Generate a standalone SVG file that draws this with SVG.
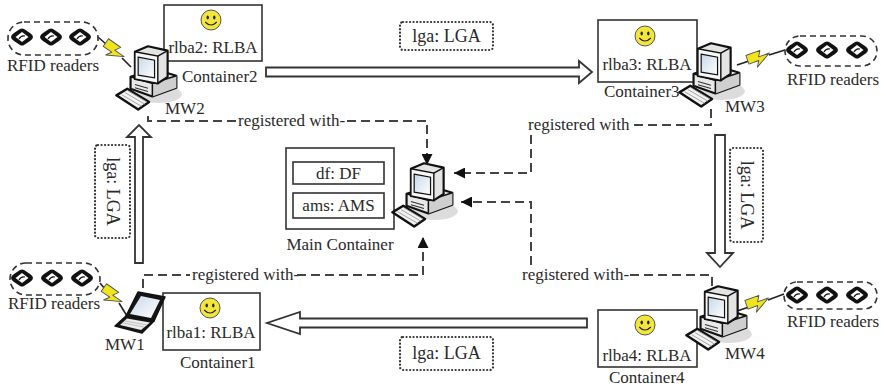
<svg xmlns="http://www.w3.org/2000/svg" xmlns:xlink="http://www.w3.org/1999/xlink" width="881" height="388" viewBox="0 0 881 388">
  <style>
    .t { font-family: "Liberation Serif", "Times New Roman", serif; font-size: 17px; fill: #2a2a2a; }
    .lga { font-family: "Liberation Serif", "Times New Roman", serif; font-size: 18px; fill: #2a2a2a; }
    .box { fill: #fff; stroke: #333; stroke-width: 1.6; }
    .dot { fill: none; stroke: #333; stroke-width: 2.2; stroke-dasharray: 0.1 3.4; stroke-linecap: round; }
    .dash { fill: none; stroke: #444; stroke-width: 2; stroke-dasharray: 9 5; }
    .hollow { fill: #fff; stroke: #333; stroke-width: 1.8; stroke-linejoin: miter; }
    .grp { fill: none; stroke: #333; stroke-width: 1.6; stroke-dasharray: 6 4; }
    .wire { fill: none; stroke: #222; stroke-width: 1.6; }
    .bolt { fill: #f2e41c; stroke: #555; stroke-width: 0.8; stroke-linejoin: round; }
  </style>
  <defs>
    <linearGradient id="scr" x1="0" y1="0" x2="1" y2="1">
      <stop offset="0" stop-color="#c9d8ea"/>
      <stop offset="1" stop-color="#ffffff"/>
    </linearGradient>
    <marker id="ah" viewBox="0 0 10 10" refX="10" refY="5" markerWidth="11" markerHeight="11" markerUnits="userSpaceOnUse" orient="auto">
      <path d="M0,0 L10,5 L0,10 Z" fill="#111"/>
    </marker>
    <!-- desktop workstation -->
    <symbol id="pc" viewBox="0 0 60 66" overflow="visible">
      <ellipse cx="40" cy="47" rx="21" ry="8" fill="#dcdcdc"/>
      <path d="M14,31 L36,24 L56,30 L56,41 L34,49 L14,42 Z" fill="#e9e9e9" stroke="#111" stroke-width="2" stroke-linejoin="round"/>
      <path d="M34,37 L56,30 L56,41 L34,49 Z" fill="#cfcfcf"/>
      <path d="M14,31 L34,37 L56,30 M34,37 V49" fill="none" stroke="#111" stroke-width="1.4"/>
      <path d="M18,38 L30,41.5 M18,41 L30,44.5" stroke="#333" stroke-width="1"/>
      <path d="M18,8 L30,3 L48,7 L48,31 L39,37 L18,33 Z" fill="#e4e4e4" stroke="#111" stroke-width="2" stroke-linejoin="round"/>
      <path d="M18,8 L39,12 L39,37 L18,33 Z" fill="#f7f7f7" stroke="#111" stroke-width="1.3"/>
      <path d="M39,12 L48,7" stroke="#111" stroke-width="1.3"/>
      <path d="M21,13 L36,15.8 L36,32 L21,29.5 Z" fill="url(#scr)" stroke="#111" stroke-width="1.1"/>
      <path d="M1,48 L11,42 L31,54 L21,61 Z" fill="#f2f2f2" stroke="#111" stroke-width="2.2" stroke-linejoin="round"/>
      <path d="M6,47.5 L24,58 M9,45.5 L27,56 M12,44 L29,54" stroke="#999" stroke-width="0.8"/>
    </symbol>
    <!-- RFID reader -->
    <g id="rd">
      <path d="M-11,0 Q-11,-2 -8,-4 L-2,-8 Q0,-9 2,-8 L8,-4 Q11,-2 11,0 Q11,2 8,4 L2,8 Q0,9 -2,8 L-8,4 Q-11,2 -11,0 Z" fill="#111"/>
      <path d="M-6.5,0 L0,-5 L6.5,0 L0,5 Z" fill="#fff"/>
      <path d="M-3,2 Q-1,-2 3,-1" fill="none" stroke="#111" stroke-width="1.2"/>
    </g>
    <!-- agent face -->
    <g id="face">
      <circle r="10" fill="#f3e63a" stroke="#555" stroke-width="1"/>
      <ellipse cx="-3.3" cy="-2.5" rx="1.2" ry="1.9" fill="#222"/>
      <ellipse cx="3.3" cy="-2.5" rx="1.2" ry="1.9" fill="#222"/>
      <path d="M-5.8,2 Q0,8 5.8,2" fill="none" stroke="#222" stroke-width="1.2"/>
    </g>
    <polygon id="bolt" class="bolt" points="-10,-6 3,-6 0,-1 10,-1 -4,7 -1,2 -10,2"/>
  </defs>

  <rect width="881" height="388" fill="#fff"/>

  <!-- hollow migration arrows and their labels -->
  <g id="migration">
    <path class="hollow" d="M266,67.5 H579 V61 L592,72 L579,83 V76.5 H266 Z"/>
    <path class="hollow" d="M715,135 V253 H707 L720,267 L733,253 H725 V135 Z"/>
    <path class="hollow" d="M587,318.5 H300 V312 L267,323 L300,334 V327.5 H587 Z"/>
    <path class="hollow" d="M135,263 V137 H127 L139,125 L151,137 H143 V263 Z"/>
    <rect class="dot" x="400" y="22" width="93" height="28" rx="3"/>
    <text class="lga" x="446.5" y="42" text-anchor="middle">lga: LGA</text>
    <rect class="dot" x="730" y="148" width="33" height="94" rx="3"/>
    <text class="lga" transform="translate(746.5,195) rotate(90)" y="6" text-anchor="middle">lga: LGA</text>
    <rect class="dot" x="400" y="337" width="93" height="33" rx="3"/>
    <text class="lga" x="446.5" y="359" text-anchor="middle">lga: LGA</text>
    <rect class="dot" x="95" y="145" width="35" height="93" rx="3"/>
    <text class="lga" transform="translate(112.5,191.5) rotate(90)" y="6" text-anchor="middle">lga: LGA</text>
  </g>

  <!-- registration connectors -->
  <g id="connectors">
    <path class="dash" d="M148,116 V121 H236"/>
    <text class="t" x="238" y="126">registered with-</text>
    <path class="dash" d="M347,121 H427 V165" marker-end="url(#ah)"/>

    <path class="dash" d="M711,109 V125 H632"/>
    <text class="t" x="528" y="130">registered with</text>
    <path class="dash" d="M531,135 V173 H454" marker-end="url(#ah)"/>

    <path class="dash" d="M712,286 V275 H627"/>
    <text class="t" x="522" y="280">registered with-</text>
    <path class="dash" d="M531,265 V202 H461" marker-end="url(#ah)"/>

    <path class="dash" d="M143,288 V275 H190"/>
    <text class="t" x="192" y="280">registered with-</text>
    <path class="dash" d="M297,275 H423 V237" marker-end="url(#ah)"/>
  </g>

  <!-- main container -->
  <g id="main-container">
    <rect class="box" x="286" y="148" width="108" height="81"/>
    <rect class="box" x="293" y="162" width="91" height="22"/>
    <text class="t" x="338.5" y="179" text-anchor="middle">df: DF</text>
    <rect class="box" x="293" y="193" width="91" height="25"/>
    <text class="t" x="338.5" y="211" text-anchor="middle">ams: AMS</text>
    <text class="t" x="340" y="250" text-anchor="middle">Main Container</text>
    <use href="#pc" x="391" y="160" width="66" height="72"/>
  </g>

  <!-- container 2 with MW2 -->
  <g id="container2">
    <rect class="box" x="164" y="5" width="98" height="56"/>
    <use href="#face" x="211" y="20"/>
    <text class="t" x="213" y="53" text-anchor="middle">rlba2: RLBA</text>
    <text class="t" x="182" y="82">Container2</text>
  </g>
  <g id="mw2">
    <path class="wire" d="M98,37 L106,44 M122,58 L131,67"/>
    <use href="#bolt" transform="translate(114,51) rotate(35) scale(1.15)"/>
    <use href="#pc" x="115" y="43" width="66" height="72"/>
    <text class="t" x="165" y="114">MW2</text>
  </g>
  <g id="readers2">
    <rect class="grp" x="8" y="22" width="90" height="33" rx="16"/>
    <use href="#rd" x="22" y="37"/>
    <use href="#rd" x="51" y="37"/>
    <use href="#rd" x="80" y="37"/>
    <text class="t" x="7" y="71">RFID readers</text>
  </g>

  <!-- container 3 with MW3 -->
  <g id="container3">
    <rect class="box" x="598" y="20" width="99" height="62"/>
    <use href="#face" x="645" y="36"/>
    <text class="t" x="647" y="70" text-anchor="middle">rlba3: RLBA</text>
    <text class="t" x="604" y="97">Container3</text>
  </g>
  <g id="mw3">
    <path class="wire" d="M737,65 L749,61 M769,55 L785,50"/>
    <use href="#bolt" transform="translate(759,58) rotate(-20) scale(1.15)"/>
    <use href="#pc" x="678" y="40" width="66" height="72"/>
    <text class="t" x="725" y="112">MW3</text>
  </g>
  <g id="readers3">
    <rect class="grp" x="785" y="36" width="92" height="30" rx="15"/>
    <use href="#rd" x="797" y="50"/>
    <use href="#rd" x="827" y="50"/>
    <use href="#rd" x="857" y="50"/>
    <text class="t" x="787" y="85">RFID readers</text>
  </g>

  <!-- container 1 with MW1 -->
  <g id="container1">
    <rect class="box" x="163" y="293" width="97" height="57"/>
    <use href="#face" x="210" y="308"/>
    <text class="t" x="211" y="338" text-anchor="middle">rlba1: RLBA</text>
    <text class="t" x="180" y="368">Container1</text>
  </g>
  <g id="mw1">
    <path class="wire" d="M100,283 L105,289 M119,303 L127,316"/>
    <use href="#bolt" transform="translate(112,296) rotate(35) scale(1.15)"/>
    <path d="M138,292 L165,297 L154,321 L126,316 Z" fill="#151515" stroke="#111" stroke-width="1.5" stroke-linejoin="round"/>
    <path d="M141,296 L160,300 L151,318 L130,314 Z" fill="url(#scr)"/>
    <path d="M126,316 L154,321 L142,333 L115,326 Z" fill="#151515" stroke="#111" stroke-width="1.5" stroke-linejoin="round"/>
    <path d="M127,318.5 L150,322.5 L141,330 L120,325 Z" fill="#ececec"/>
    <path d="M125,321 L147,325 M123,323 L144,327" stroke="#aaa" stroke-width="0.7"/>
    <text class="t" x="105" y="350">MW1</text>
  </g>
  <g id="readers1">
    <rect class="grp" x="10" y="263" width="90" height="32" rx="16"/>
    <use href="#rd" x="22" y="278"/>
    <use href="#rd" x="52" y="278"/>
    <use href="#rd" x="82" y="278"/>
    <text class="t" x="8" y="309">RFID readers</text>
  </g>

  <!-- container 4 with MW4 -->
  <g id="container4">
    <rect class="box" x="598" y="310" width="99" height="57"/>
    <use href="#face" x="645" y="325"/>
    <text class="t" x="647" y="361" text-anchor="middle">rlba4: RLBA</text>
    <text class="t" x="609" y="383">Container4</text>
  </g>
  <g id="mw4">
    <path class="wire" d="M737,311 L749,307 M768,300 L784,294"/>
    <use href="#bolt" transform="translate(758,303) rotate(-20) scale(1.15)"/>
    <use href="#pc" x="685" y="283" width="66" height="72"/>
    <text class="t" x="725" y="359">MW4</text>
  </g>
  <g id="readers4">
    <rect class="grp" x="784" y="282" width="93" height="27" rx="13"/>
    <use href="#rd" x="797" y="295"/>
    <use href="#rd" x="827" y="295"/>
    <use href="#rd" x="857" y="295"/>
    <text class="t" x="787" y="327">RFID readers</text>
  </g>
</svg>
